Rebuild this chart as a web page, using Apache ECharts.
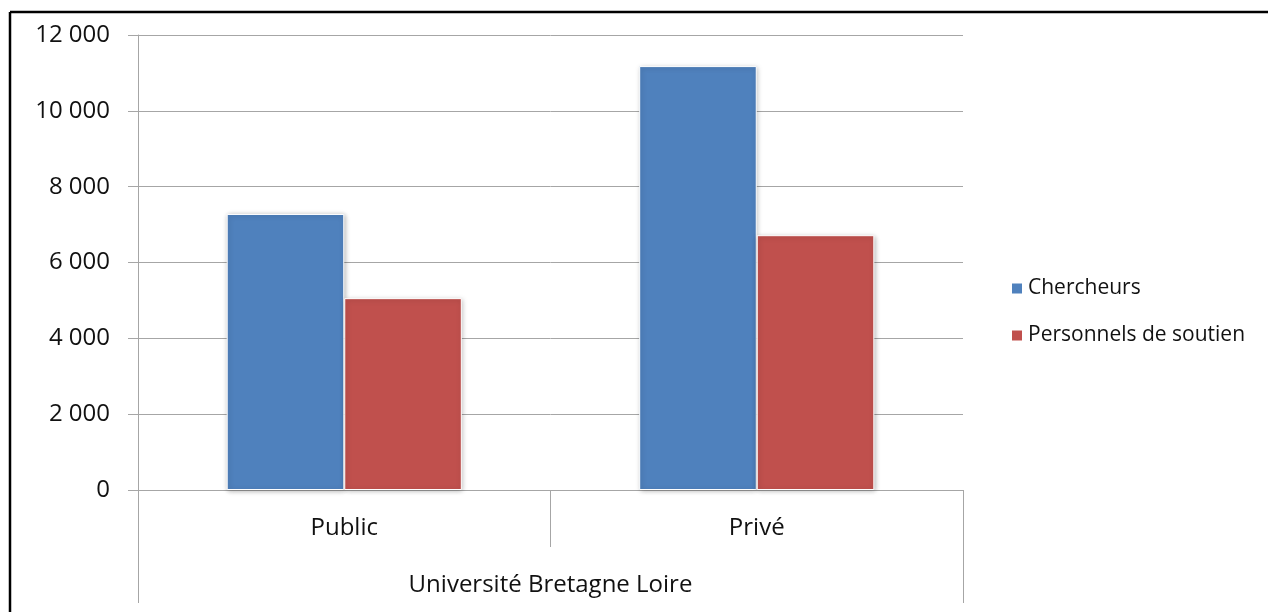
<!DOCTYPE html>
<html>
<head>
<meta charset="utf-8">
<script src="https://cdn.jsdelivr.net/npm/echarts@6/dist/echarts.min.js"></script>
<style>
  html, body { margin: 0; padding: 0; background: #fff; }
  #chart { width: 1268px; height: 612px; }
</style>
</head>
<body>
<div id="chart"></div>
<script>
const categories = ['Public', 'Privé']
const groupLabel = ['Université Bretagne Loire']
const chercheurs = [7280, 11180]
const soutien = [5060, 6720]
const seriesNames = ['Chercheurs', 'Personnels de soutien']

const font = 'Open Sans'
const gridColor = '#a6a6a6'
const textColor = '#111'

function fmt (v) {
  return String(v).replace(/\B(?=(\d{3})+(?!\d))/g, ' ')
}

const barStyle = (color) => ({
  color: color,
  borderColor: '#fff',
  borderWidth: 1,
  shadowBlur: 5,
  shadowColor: 'rgba(0,0,0,0.28)',
  shadowOffsetX: 1,
  shadowOffsetY: 1
})

const option = {
  animation: false,
  textStyle: { fontFamily: font },
  grid: { left: 138, right: 305, top: 35, bottom: 122 },
  legend: {
    orient: 'vertical',
    left: 1005,
    top: 273,
    itemWidth: 12,
    itemHeight: 12,
    itemGap: 26,
    icon: 'rect',
    textStyle: { fontFamily: font, fontSize: 21, color: textColor },
    data: seriesNames
  },
  xAxis: [
    {
      type: 'category',
      data: categories,
      axisLine: { lineStyle: { color: gridColor } },
      axisTick: { show: true, length: 57, lineStyle: { color: gridColor } },
      axisLabel: { fontSize: 24, color: textColor, margin: 26, fontFamily: font }
    },
    {
      type: 'category',
      data: groupLabel,
      position: 'bottom',
      offset: 57,
      axisLine: { show: false },
      axisTick: { show: true, length: 56, lineStyle: { color: gridColor } },
      axisLabel: { fontSize: 24, color: textColor, margin: 26, fontFamily: font }
    }
  ],
  yAxis: {
    type: 'value',
    min: 0,
    max: 12000,
    interval: 2000,
    axisLine: { show: true, lineStyle: { color: gridColor } },
    axisTick: { show: true, length: 10, lineStyle: { color: gridColor } },
    splitLine: { lineStyle: { color: gridColor } },
    axisLabel: {
      fontSize: 24,
      color: textColor,
      margin: 28,
      fontFamily: font,
      formatter: fmt
    }
  },
  series: [
    {
      name: seriesNames[0],
      type: 'bar',
      data: chercheurs,
      barGap: '0%',
      barCategoryGap: '43%',
      itemStyle: barStyle('#4f81bd')
    },
    {
      name: seriesNames[1],
      type: 'bar',
      data: soutien,
      itemStyle: barStyle('#c0504d')
    }
  ],
  graphic: [
    {
      type: 'line',
      shape: { x1: 10, y1: 12, x2: 1268, y2: 12 },
      style: { stroke: '#000', lineWidth: 2.5 }
    },
    {
      type: 'line',
      shape: { x1: 10, y1: 12, x2: 10, y2: 612 },
      style: { stroke: '#000', lineWidth: 2.5 }
    }
  ]
}

const myChart = echarts.init(document.getElementById('chart'))
myChart.setOption(option)
</script>
</body>
</html>
